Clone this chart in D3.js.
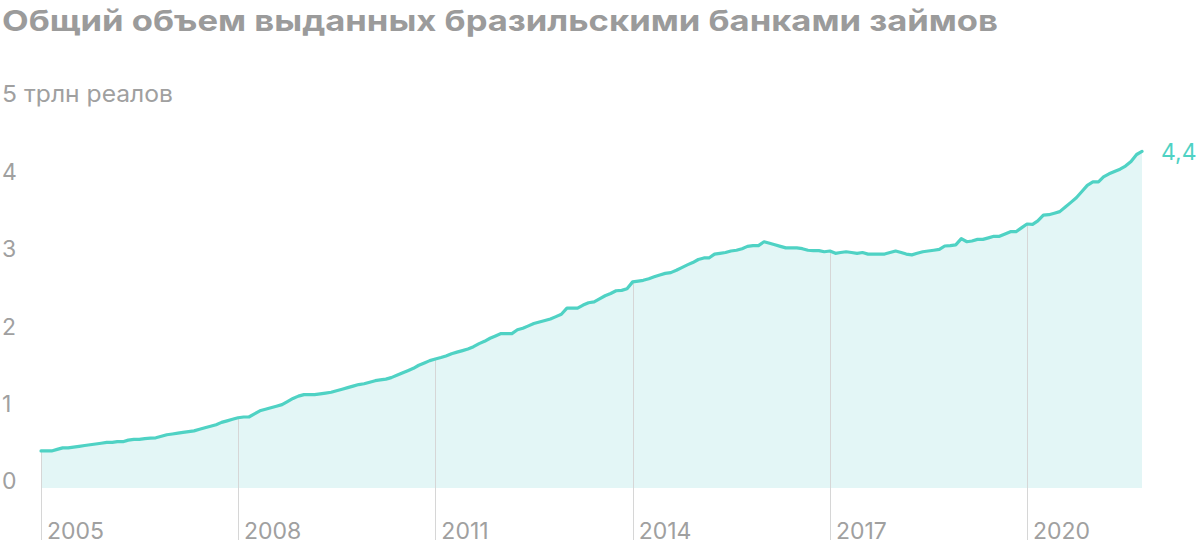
<!DOCTYPE html>
<html><head><meta charset="utf-8">
<script src="https://cdn.jsdelivr.net/npm/d3@7"></script>
<style>
html,body{margin:0;padding:0;background:#fff;}
svg{display:block;font-family:Inter,Roboto,"Noto Sans",sans-serif;}
</style></head>
<body>
<svg id="chart" width="1200" height="549"></svg>
<script>
const title = "Общий объем выданных бразильскими банками займов";
const unitLabel = "5 трлн реалов";
const startMonth = "2005-01";
// monthly totals, trillion reais, Jan 2005 – Oct 2021
const values = [
  0.48,0.48,0.48,0.50,0.52,0.52,0.53,0.54,0.55,0.56,0.57,0.58,
  0.59,0.59,0.60,0.60,0.62,0.63,0.63,0.64,0.645,0.65,0.67,0.69,
  0.70,0.71,0.72,0.73,0.74,0.76,0.78,0.80,0.82,0.85,0.87,0.89,
  0.91,0.92,0.92,0.96,1.00,1.02,1.04,1.06,1.08,1.12,1.16,1.19,
  1.21,1.21,1.21,1.22,1.23,1.24,1.26,1.28,1.30,1.32,1.34,1.35,
  1.37,1.39,1.40,1.41,1.43,1.46,1.49,1.52,1.55,1.59,1.62,1.65,
  1.67,1.69,1.71,1.74,1.76,1.78,1.80,1.83,1.87,1.90,1.94,1.97,
  2.00,2.00,2.00,2.05,2.07,2.10,2.13,2.15,2.17,2.19,2.22,2.25,
  2.33,2.33,2.33,2.37,2.40,2.41,2.45,2.49,2.52,2.555,2.56,2.58,
  2.67,2.68,2.69,2.71,2.735,2.76,2.78,2.79,2.82,2.855,2.89,2.92,
  2.96,2.98,2.98,3.03,3.04,3.05,3.07,3.08,3.10,3.13,3.14,3.14,
  3.19,3.17,3.15,3.13,3.11,3.11,3.11,3.10,3.08,3.075,3.075,3.06,
  3.07,3.04,3.05,3.06,3.05,3.04,3.05,3.03,3.03,3.03,3.03,3.05,
  3.07,3.05,3.03,3.02,3.04,3.06,3.07,3.08,3.09,3.135,3.14,3.15,
  3.23,3.19,3.20,3.22,3.22,3.24,3.26,3.26,3.29,3.32,3.32,3.37,
  3.42,3.415,3.46,3.535,3.54,3.56,3.58,3.64,3.70,3.76,3.84,3.92,
  3.965,3.965,4.03,4.07,4.10,4.13,4.17,4.23,4.32,4.36
];
const yTicks = [0,1,2,3,4];
const xTickYears = [2005,2008,2011,2014,2017,2020];
const endLabel = "4,4";

const parse = d3.timeParse("%Y-%m");
const t0 = parse(startMonth);
const data = values.map((v,i)=>({date:d3.timeMonth.offset(t0,i), value:v}));

const svg = d3.select("#chart");
const x = d3.scaleTime()
  .domain([new Date(2005,0,1), new Date(2020,0,1)])
  .range([41, 1027]);
const y = d3.scaleLinear().domain([0,5]).range([488, 488-5*77.2]);

const teal = "#4fd2c4", fill = "#e3f6f6", grey = "#a0a0a0";

// title
svg.append("text").attr("x",2).attr("y",31)
  .attr("font-size",29).attr("font-weight",700).attr("fill","#9b9b9b")
  .attr("textLength",996).attr("lengthAdjust","spacingAndGlyphs")
  .text(title);
// unit label
svg.append("text").attr("x",2).attr("y",y(5))
  .attr("font-size",23).attr("fill",grey).attr("textLength",171).attr("lengthAdjust","spacingAndGlyphs")
  .text(unitLabel);

// area
svg.append("path").datum(data)
  .attr("fill",fill)
  .attr("d", d3.area().x(d=>x(d.date)).y0(y(0)).y1(d=>y(d.value)));

// vertical grid lines from line to bottom
const bisect = d3.bisector(d=>d.date).left;
xTickYears.forEach(yr=>{
  const dt = new Date(yr,0,1);
  const d = data[Math.min(bisect(data,dt), data.length-1)];
  svg.append("line")
    .attr("x1",Math.round(x(dt))+0.5).attr("x2",Math.round(x(dt))+0.5)
    .attr("y1",y(d.value)).attr("y2",540)
    .attr("stroke","#d6d6d6").attr("stroke-width",1);
  svg.append("text").attr("x",x(dt)+6).attr("y",539)
    .attr("font-size",23).attr("fill",grey).text(String(yr));
});

// y tick labels
yTicks.forEach(t=>{
  svg.append("text").attr("x",2).attr("y",y(t)+1)
    .attr("font-size",23).attr("fill",grey).text(String(t));
});

// line
svg.append("path").datum(data)
  .attr("fill","none").attr("stroke",teal).attr("stroke-width",3.2)
  .attr("stroke-linejoin","round").attr("stroke-linecap","round")
  .attr("d", d3.line().x(d=>x(d.date)).y(d=>y(d.value)));

// end label
const last = data[data.length-1];
svg.append("text").attr("x",x(last.date)+19).attr("y",y(last.value)+9)
  .attr("font-size",23).attr("fill",teal).text(endLabel);
</script>
</body></html>
